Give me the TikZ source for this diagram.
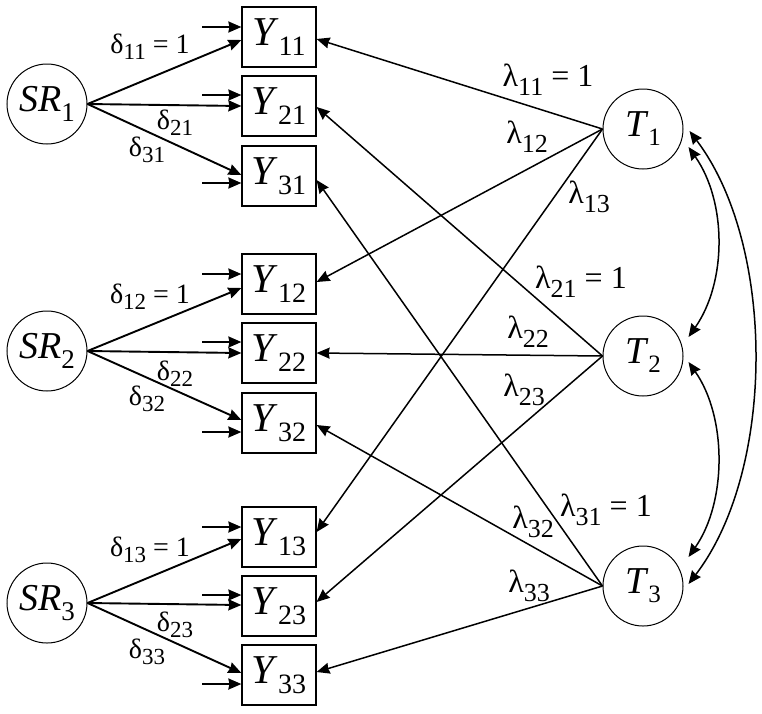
\documentclass[tikz,border=0pt]{standalone}
\usepackage{fontspec}
\setmainfont{LiberationSerif}[Extension=.ttf,UprightFont=*-Regular,ItalicFont=*-Italic,BoldFont=*-Bold]
\newfontfamily\tnr{LiberationSerif}[Extension=.ttf,UprightFont=*-Regular,ItalicFont=*-Italic,BoldFont=*-Bold]
\usetikzlibrary{arrows.meta,calc}
\newcommand{\ysub}[1]{{\tnr\fontsize{41}{41}\selectfont\textit{Y}\raisebox{-10pt}{\fontsize{28}{28}\selectfont #1}}}
\newcommand{\srsub}[1]{{\tnr\fontsize{38}{38}\selectfont\textit{SR}\raisebox{-10pt}{\fontsize{27}{27}\selectfont #1}}}
\newcommand{\tsub}[1]{{\tnr\fontsize{38}{38}\selectfont\textit{T}\raisebox{-9pt}{\fontsize{25}{25}\selectfont #1}}}
\newcommand{\dlab}[2]{{\tnr\fontsize{28}{28}\selectfont δ\raisebox{-6pt}{\fontsize{23}{23}\selectfont #1}#2}}
\newcommand{\llab}[2]{{\tnr\fontsize{32}{32}\selectfont λ\raisebox{-9pt}{\fontsize{26}{26}\selectfont #1}#2}}
\begin{document}
\begin{tikzpicture}[x=1pt,y=-1pt,
  lat/.style={circle,draw,line width=1pt,minimum size=80pt,inner sep=0pt},
  obs/.style={draw,line width=1.2pt,minimum width=74pt,minimum height=60pt,inner sep=0pt},
  tip/.style={-{Stealth[length=13pt,width=11pt,inset=1pt]}},
  sr/.style={tip,line width=1.9pt},
  er/.style={tip,line width=1.9pt},
  ld/.style={tip,line width=1.5pt},
  cv/.style={line width=1.5pt,{Stealth[length=13pt,width=11pt,inset=1pt]}-{Stealth[length=13pt,width=11pt,inset=1pt]}},
  lbl/.style={inner sep=0pt}]
\useasboundingbox (0,0) rectangle (762,713);
% latent nodes
\node[lat] (SR1) at (47,104) {\srsub{1}};
\node[lat] (SR2) at (47,351) {\srsub{2}};
\node[lat] (SR3) at (47,603) {\srsub{3}};
\node[lat] (T1) at (643,129) {\tsub{1}};
\node[lat] (T2) at (643,356) {\tsub{2}};
\node[lat] (T3) at (643,586) {\tsub{3}};
% observed
\node[obs] (Y11) at (279,37) {\ysub{11}};
\node[obs] (Y21) at (279,106) {\ysub{21}};
\node[obs] (Y31) at (279,176) {\ysub{31}};
\node[obs] (Y12) at (279,284) {\ysub{12}};
\node[obs] (Y22) at (279,353) {\ysub{22}};
\node[obs] (Y32) at (279,423) {\ysub{32}};
\node[obs] (Y13) at (279,537) {\ysub{13}};
\node[obs] (Y23) at (279,606) {\ysub{23}};
\node[obs] (Y33) at (279,675) {\ysub{33}};
% error arrows
\foreach \n/\yy in {11/27,21/95,31/183,12/274,22/342,32/432,13/527,23/595,33/684}{
  \coordinate (e\n) at (202,\yy);
  \draw[er] (e\n) -- (e\n -| Y\n.west);
}
% SR loadings
\draw[sr] (SR1.east) -- ($(Y11.west)+(0,3)$);
\draw[sr] (SR1.east) -- ($(Y21.west)+(0,0)$);
\draw[sr] (SR1.east) -- ($(Y31.west)+(0,-1)$);
\draw[sr] (SR2.east) -- ($(Y12.west)+(0,4)$);
\draw[sr] (SR2.east) -- ($(Y22.west)+(0,0)$);
\draw[sr] (SR2.east) -- ($(Y32.west)+(0,-3)$);
\draw[sr] (SR3.east) -- ($(Y13.west)+(0,2)$);
\draw[sr] (SR3.east) -- ($(Y23.west)+(0,-1)$);
\draw[sr] (SR3.east) -- ($(Y33.west)+(0,-2)$);
% T loadings
\draw[ld] (T1.west) -- ($(Y11.east)+(0,2)$);
\draw[ld] (T1.west) -- ($(Y12.east)+(0,-2)$);
\draw[ld] (T1.west) -- ($(Y13.east)+(0,-5)$);
\draw[ld] (T2.west) -- ($(Y21.east)+(0,1)$);
\draw[ld] (T2.west) -- ($(Y22.east)+(0,0)$);
\draw[ld] (T2.west) -- ($(Y23.east)+(0,-4)$);
\draw[ld] (T3.west) -- ($(Y31.east)+(0,4)$);
\draw[ld] (T3.west) -- ($(Y32.east)+(0,2)$);
\draw[ld] (T3.west) -- ($(Y33.east)+(0,-3)$);
% covariances
\draw[cv] ($(T1.east)+(5,18)$) .. controls (727,202) and (727,282) .. ($(T2.east)+(5,-19)$);
\draw[cv] ($(T2.east)+(5,6)$) .. controls (727,417) and (727,502) .. ($(T3.east)+(5,-29)$);
\draw[cv] ($(T1.east)+(6,2)$) .. controls (776,245) and (776,470) .. ($(T3.east)+(5,-2)$);
% delta labels
\node[lbl] (d11) at (150,47) {\dlab{11}{ = 1}};
\node[lbl] (d21) at (175,123) {\dlab{21}{}};
\node[lbl] (d31) at (147,150) {\dlab{31}{}};
\node[lbl] (d12) at (150,297) {\dlab{12}{ = 1}};
\node[lbl] (d22) at (175,374) {\dlab{22}{}};
\node[lbl] (d32) at (147,399) {\dlab{32}{}};
\node[lbl] (d13) at (150,550) {\dlab{13}{ = 1}};
\node[lbl] (d23) at (175,625) {\dlab{23}{}};
\node[lbl] (d33) at (147,652) {\dlab{33}{}};
% lambda labels
\node[lbl] (l11) at (548,80) {\llab{11}{ = 1}};
\node[lbl] (l12) at (527,137) {\llab{12}{}};
\node[lbl] (l13) at (589,197) {\llab{13}{}};
\node[lbl] (l21) at (581,282) {\llab{21}{ = 1}};
\node[lbl] (l22) at (528,332) {\llab{22}{}};
\node[lbl] (l23) at (524,390) {\llab{23}{}};
\node[lbl] (l31) at (606,510) {\llab{31}{ = 1}};
\node[lbl] (l32) at (533,522) {\llab{32}{}};
\node[lbl] (l33) at (529,586) {\llab{33}{}};
\end{tikzpicture}
\end{document}
